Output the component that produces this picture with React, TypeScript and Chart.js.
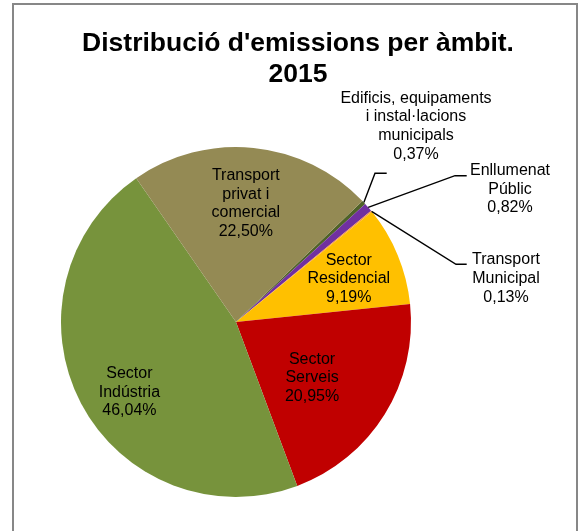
import React, { useEffect, useRef } from "react";
import { Chart, PieController, ArcElement } from "chart.js";

Chart.register(PieController, ArcElement);

// ---- data ----
const titleLines = ["Distribució d'emissions per àmbit.", "2015"];
const categories: string[][] = [
  ["Edificis, equipaments", "i instal·lacions", "municipals"],
  ["Enllumenat", "Públic"],
  ["Transport", "Municipal"],
  ["Sector", "Residencial"],
  ["Sector", "Serveis"],
  ["Sector", "Indústria"],
  ["Transport", "privat i", "comercial"],
];
const shares = [0.37, 0.82, 0.13, 9.19, 20.95, 46.04, 22.5];

// ---- styles ----
const sliceColors = ["#4F6228", "#7030A0", "#F79646", "#FFC000", "#C00000", "#77933C", "#948A54"];
const FONT = "'Liberation Sans', Arial, sans-serif";
const LABEL_PX = 16;
const LINE_H = 18.6;

type Placement =
  | { kind: "in"; r: number; da: number }
  | { kind: "out"; elbow: [number, number]; end: [number, number]; text: [number, number] };

const placements: Placement[] = [
  { kind: "out", elbow: [139, -148.7], end: [150.7, -148.7], text: [180, -223.7] },
  { kind: "out", elbow: [219, -146.3], end: [230.7, -146.3], text: [274, -151.3] },
  { kind: "out", elbow: [220, -57.7], end: [230.7, -57.7], text: [270, -62] },
  { kind: "in", r: 0.69, da: 1.5 },
  { kind: "in", r: 0.54, da: 4.6 },
  { kind: "in", r: 0.73, da: -5.8 },
  { kind: "in", r: 0.68, da: -1 },
];

const fmt = (v: number) => v.toFixed(2).replace(".", ",") + "%";

const decorPlugin = {
  id: "decor",
  afterDatasetsDraw(chart: any) {
    const ctx: CanvasRenderingContext2D = chart.ctx;
    ctx.save();
    // title
    ctx.fillStyle = "#000";
    ctx.textAlign = "center";
    ctx.textBaseline = "alphabetic";
    ctx.font = `bold 26.5px ${FONT}`;
    ctx.fillText(titleLines[0], 298, 51);
    ctx.fillText(titleLines[1], 298, 82);

    const meta = chart.getDatasetMeta(0);
    ctx.font = `${LABEL_PX}px ${FONT}`;
    ctx.textBaseline = "middle";
    meta.data.forEach((arc: any, i: number) => {
      const p = arc.getProps(["x", "y", "startAngle", "endAngle", "outerRadius"], true);
      const mid = (p.startAngle + p.endAngle) / 2;
      const lines = [...categories[i], fmt(shares[i])];
      const pl = placements[i];
      if (pl.kind === "in") {
        const a = mid + (pl.da * Math.PI) / 180;
        const d = pl.r * p.outerRadius;
        const cx = p.x + Math.cos(a) * d;
        const cy = p.y + Math.sin(a) * d;
        const y0 = cy - ((lines.length - 1) * LINE_H) / 2;
        lines.forEach((t, k) => ctx.fillText(t, cx, y0 + k * LINE_H));
      } else {
        const ex = p.x + Math.cos(mid) * p.outerRadius;
        const ey = p.y + Math.sin(mid) * p.outerRadius;
        ctx.strokeStyle = "#000";
        ctx.lineWidth = 1.4;
        ctx.beginPath();
        ctx.moveTo(ex, ey);
        ctx.lineTo(p.x + pl.elbow[0], p.y + pl.elbow[1]);
        ctx.lineTo(p.x + pl.end[0], p.y + pl.end[1]);
        ctx.stroke();
        const tx = p.x + pl.text[0];
        const ty = p.y + pl.text[1];
        lines.forEach((t, k) => ctx.fillText(t, tx, ty + k * LINE_H));
      }
    });
    ctx.restore();
  },
};

export default function App() {
  const ref = useRef<HTMLCanvasElement | null>(null);
  useEffect(() => {
    if (!ref.current) return;
    const chart = new Chart(ref.current, {
      type: "pie",
      data: {
        labels: categories.map((c) => c.join(" ")),
        datasets: [
          {
            data: shares,
            backgroundColor: sliceColors,
            borderWidth: 0,
          },
        ],
      },
      options: {
        responsive: false,
        animation: false,
        rotation: 46.25,
        layout: { padding: { left: 61, top: 147, right: 169, bottom: 34 } },
        plugins: { legend: { display: false }, tooltip: { enabled: false }, title: { display: false } },
      },
      plugins: [decorPlugin],
    });
    return () => chart.destroy();
  }, []);

  return (
    <div style={{ position: "fixed", left: 0, top: 0, width: 580, height: 531, overflow: "hidden", background: "#fff" }}>
      <div
        style={{
          position: "absolute",
          left: 12,
          top: 3,
          width: 566,
          height: 600,
          boxSizing: "border-box",
          border: "2px solid #878787",
        }}
      />
      <canvas ref={ref} width={580} height={531} style={{ position: "absolute", left: 0, top: 0, width: 580, height: 531 }} />
    </div>
  );
}
